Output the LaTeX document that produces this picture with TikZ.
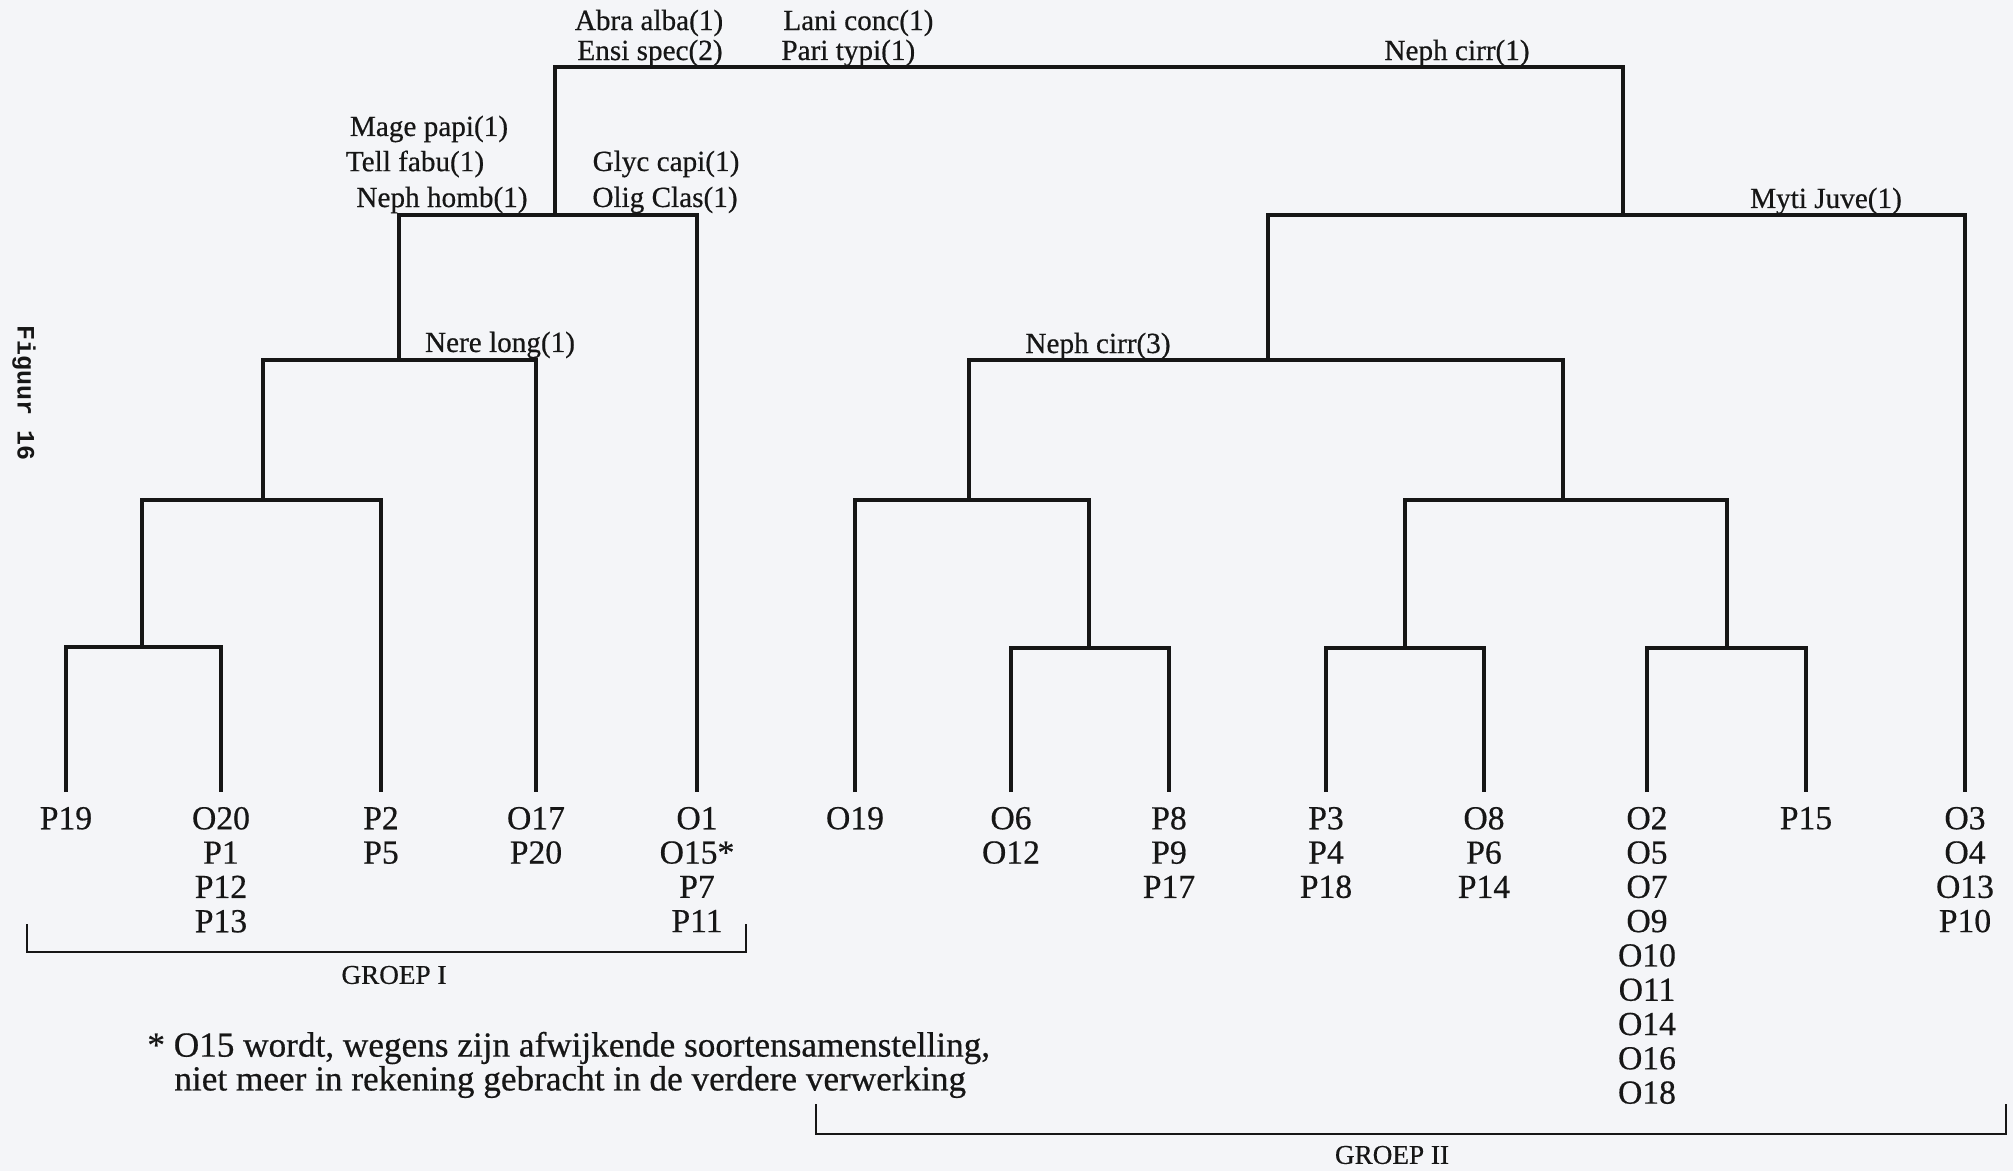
\documentclass[tikz,border=0pt]{standalone}
\usepackage{fontspec}
\setmainfont{Liberation Serif}
\newfontfamily\inkfam{Liberation Serif}[FakeBold=0.5]
\newfontfamily\monofig{Liberation Mono}
\definecolor{paper}{RGB}{244,245,248}
\definecolor{ink}{RGB}{22,22,22}
\newcommand\labfont{\inkfam\fontsize{14.6}{17.15}\selectfont}
\newcommand\leaffont{\inkfam\fontsize{16.8}{17.15}\selectfont}
\newcommand\notefont{\inkfam\fontsize{17.6}{20}\selectfont}
\newcommand\grpfont{\inkfam\fontsize{13.6}{15}\selectfont}
\newcommand\figfont{\fontsize{12.5}{15}\selectfont\monofig\bfseries}
\tikzset{
  bar/.style={draw=ink, line width=2pt, line join=miter},
  brk/.style={draw=ink, line width=1.2pt},
  leaf/.style={anchor=north, inner sep=0pt, outer ysep=7.5pt, align=center, font=\leaffont, text=ink},
  sp/.style={inner sep=0pt, font=\labfont, text=ink},
  note/.style={inner sep=0pt, font=\notefont, text=ink, anchor=west},
  grp/.style={inner sep=0pt, font=\grpfont, text=ink},
}
\begin{document}
\begin{tikzpicture}[x=0.5pt,y=-0.5pt]
\fill[paper] (0,0) rectangle (2013,1171);
\useasboundingbox (0,0) rectangle (2013,1171);

% leaves
\node[leaf] (P19) at (66,792) {P19};
\node[leaf] (O20) at (221,792) {O20\\P1\\P12\\P13};
\node[leaf] (P2) at (381,792) {P2\\P5};
\node[leaf] (O17) at (536,792) {O17\\P20};
\node[leaf] (O1) at (697,792) {O1\\O15*\\P7\\P11};
\node[leaf] (O19) at (855,792) {O19};
\node[leaf] (O6) at (1011,792) {O6\\O12};
\node[leaf] (P8) at (1169,792) {P8\\P9\\P17};
\node[leaf] (P3) at (1326,792) {P3\\P4\\P18};
\node[leaf] (O8) at (1484,792) {O8\\P6\\P14};
\node[leaf] (O2) at (1647,792) {O2\\O5\\O7\\O9\\O10\\O11\\O14\\O16\\O18};
\node[leaf] (P15) at (1806,792) {P15};
\node[leaf] (O3) at (1965,792) {O3\\O4\\O13\\P10};

% internal junctions
\coordinate (n1) at (142,647);
\coordinate (n2) at (263,500);
\coordinate (n3) at (399,360);
\coordinate (n4) at (555,215);
\coordinate (n5) at (1089,648);
\coordinate (n6) at (969,500);
\coordinate (n7) at (1405,648);
\coordinate (n8) at (1727,648);
\coordinate (n9) at (1563,500);
\coordinate (n10) at (1268,360);
\coordinate (n11) at (1623,215);
\coordinate (root) at (1089,67);

% tree
\draw[bar] (P19.north) |- (n1) -| (O20.north);
\draw[bar] (n1) |- (n2) -| (P2.north);
\draw[bar] (n2) |- (n3) -| (O17.north);
\draw[bar] (n3) |- (n4) -| (O1.north);
\draw[bar] (O6.north) |- (n5) -| (P8.north);
\draw[bar] (O19.north) |- (n6) -| (n5);
\draw[bar] (P3.north) |- (n7) -| (O8.north);
\draw[bar] (O2.north) |- (n8) -| (P15.north);
\draw[bar] (n7) |- (n9) -| (n8);
\draw[bar] (n6) |- (n10) -| (n9);
\draw[bar] (n10) |- (n11) -| (O3.north);
\draw[bar] (n4) |- (root) -| (n11);

% species labels
\node[sp] (l1) at (649,23) {Abra alba(1)};
\node[sp] (l2) at (650,53) {Ensi spec(2)};
\node[sp, anchor=west] (l3) at (783,23) {Lani conc(1)};
\node[sp, anchor=west] (l4) at (781,53) {Pari typi(1)};
\node[sp] (l5) at (1457,53) {Neph cirr(1)};
\node[sp] (l6) at (429,129) {Mage papi(1)};
\node[sp] (l7) at (415,164) {Tell fabu(1)};
\node[sp] (l8) at (442,200) {Neph homb(1)};
\node[sp] (l9) at (666,164) {Glyc capi(1)};
\node[sp] (l10) at (665,200) {Olig Clas(1)};
\node[sp] (l11) at (500,345) {Nere long(1)};
\node[sp] (l12) at (1098,346) {Neph cirr(3)};
\node[sp] (l13) at (1826,201) {Myti Juve(1)};

% group brackets
\coordinate (ga1) at (27,924);
\coordinate (ga2) at (27,952);
\coordinate (ga3) at (746,952);
\coordinate (ga4) at (746,924);
\draw[brk] (ga1) -- (ga2) -- (ga3) -- (ga4);
\node[grp] (g1) at (394,975) {GROEP I};
\coordinate (gb1) at (816,1104);
\coordinate (gb2) at (816,1134);
\coordinate (gb3) at (2006,1134);
\coordinate (gb4) at (2006,1104);
\draw[brk] (gb1) -- (gb2) -- (gb3) -- (gb4);
\node[grp] (g2) at (1392,1155) {GROEP II};

% footnote
\node[note] (fn1) at (147,1048) {* O15 wordt, wegens zijn afwijkende soortensamenstelling,};
\node[note] (fn2) at (174,1082) {niet meer in rekening gebracht in de verdere verwerking};

% figure caption
\node[rotate=-90, font=\figfont, text=ink, inner sep=0pt] (fig) at (24,393) {Figuur 16};
\end{tikzpicture}
\end{document}
